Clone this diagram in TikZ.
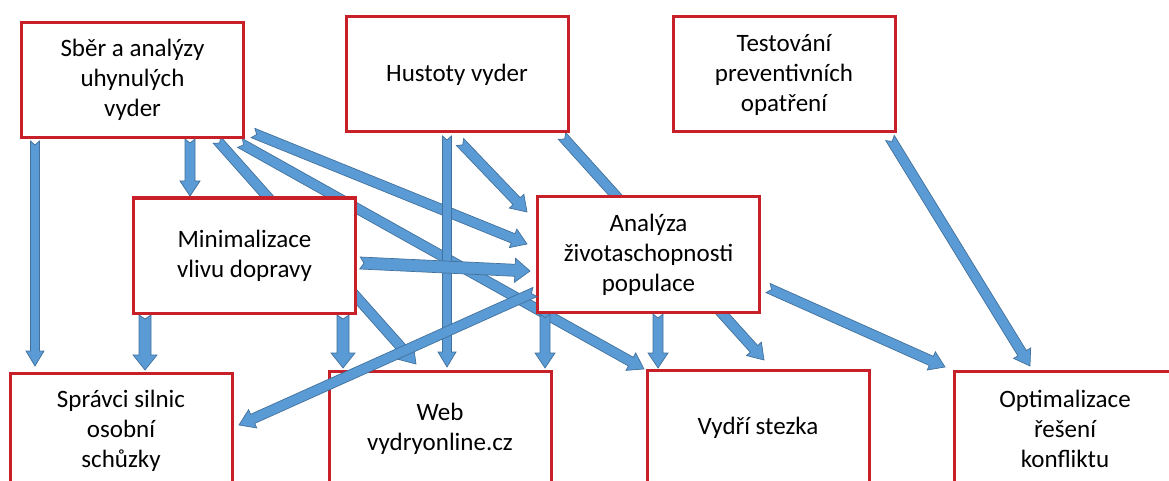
\documentclass[tikz,border=0pt]{standalone}
\usepackage{fontspec}
\setmainfont{Carlito}
\usetikzlibrary{calc,backgrounds}
\definecolor{boxred}{RGB}{200,32,40}
\definecolor{afill}{RGB}{91,155,213}
\definecolor{aline}{RGB}{65,113,156}
\tikzset{
  box/.style={draw=boxred, line width=3pt, fill=white, minimum width=222pt,
    minimum height=115pt, inner sep=0pt, outer sep=0pt, align=center,
    font=\fontsize{25}{30}\selectfont, text=black},
  blockarr/.style={fill=afill, draw=aline, line width=0.7pt, line join=miter}
}
% block arrow: [half shaft width]{tail}{tip}
\newcommand\barrow[3][5]{%
  \path let \p1=(#2), \p2=(#3) in \pgfextra{%
    \pgfmathsetmacro\baang{atan2(\y2-\y1,\x2-\x1)}%
    \pgfmathsetmacro\balen{veclen(\x2-\x1,\y2-\y1)}%
    \pgfmathsetmacro\babase{\balen-15}%
    \pgfmathsetmacro\bahead{#1*2}%
    \xdef\baang{\baang}\xdef\balen{\balen}\xdef\babase{\babase}\xdef\bahead{\bahead}%
    \xdef\bax{\x1}\xdef\bay{\y1}};
  \filldraw[blockarr, shift={(\bax,\bay)}, rotate=\baang]
    (0pt,-#1pt) -- (\babase pt,-#1pt) -- (\babase pt,-\bahead pt) -- (\balen pt,0pt)
    -- (\babase pt,\bahead pt) -- (\babase pt,#1pt) -- (0pt,#1pt) -- (4pt,0pt) -- cycle;
}
\begin{document}
\begin{tikzpicture}[x=1pt,y=-1pt]
\useasboundingbox (0,0) rectangle (1169,481);
% boxes
\node[box] (sber) at (132.5,80) {Sběr a analýzy\\uhynulých\\vyder};
\node[box] (hust) at (457,74.5) {Hustoty vyder};
\node[box] (test) at (784,74.5) {Testování\\preventivních\\opatření};
\node[box] (mini) at (244.5,255.5) {Minimalizace\\vlivu dopravy};
\node[box] (anal) at (648.5,254.5) {Analýza\\životaschopnosti\\populace};
\node[box] (spr) at (121,430.5) {Správci silnic\\osobní\\schůzky};
\node[box] (web) at (440,428.5) {Web\\vydryonline.cz};
\node[box] (vyd) at (758,427.5) {Vydří stezka};
\node[box] (opt) at (1065,428.5) {Optimalizace\\řešení\\konfliktu};
\begin{pgfonlayer}{background}
\fill[white] (0,0) rectangle (1169,481);
% from Sber
\barrow[4.5]{$(sber.south west)+(13.5,3.5)$}{$(spr.north west)+(25,-7)$}
\barrow{$(sber.south west)+(168.5,1.5)$}{$(mini.north west)+(56.5,-2)$}
\barrow{$(sber.south west)+(195.5,2.5)$}{$(web.north west)+(87,-7)$}
\barrow{$(sber.south east)+(-3.5,5.5)$}{$(vyd.north west)+(-3,-1)$}
\barrow{$(sber.south east)+(9.5,-4.5)$}{$(anal.north west)+(-10.5,47)$}
% from Hust
\barrow[4.5]{$(hust.south west)+(101,4)$}{$(web.north west)+(118,-4)$}
\barrow{$(hust.south west)+(114,10)$}{$(anal.north west)+(-10.5,15)$}
\barrow{$(hust.south east)+(-6,4)$}{$(vyd.north west)+(117,-10)$}
% from Test
\barrow{$(test.south east)+(-5,6)$}{$(opt.north west)+(76,-5)$}
% from Mini
\barrow[6]{$(mini.south west)+(11.5,2)$}{$(spr.north west)+(135,-3)$}
\barrow[6]{$(mini.south east)+(-12.5,2)$}{$(web.north west)+(14,-3)$}
\barrow[6]{$(mini.north east)+(4.5,65)$}{$(anal.north west)+(-7.5,74)$}
% from Anal
\barrow{$(anal.south west)+(7.5,2)$}{$(web.north east)+(-6,-3)$}
\barrow{$(anal.south west)+(120.5,2)$}{$(vyd.north west)+(11,-2)$}
\barrow{$(anal.south east)+(8.5,-24)$}{$(opt.north west)+(-9,-4)$}
\end{pgfonlayer}
\barrow{$(anal.south west)+(-2.5,-20)$}{$(spr.north east)+(7,52)$}
\end{tikzpicture}
\end{document}
